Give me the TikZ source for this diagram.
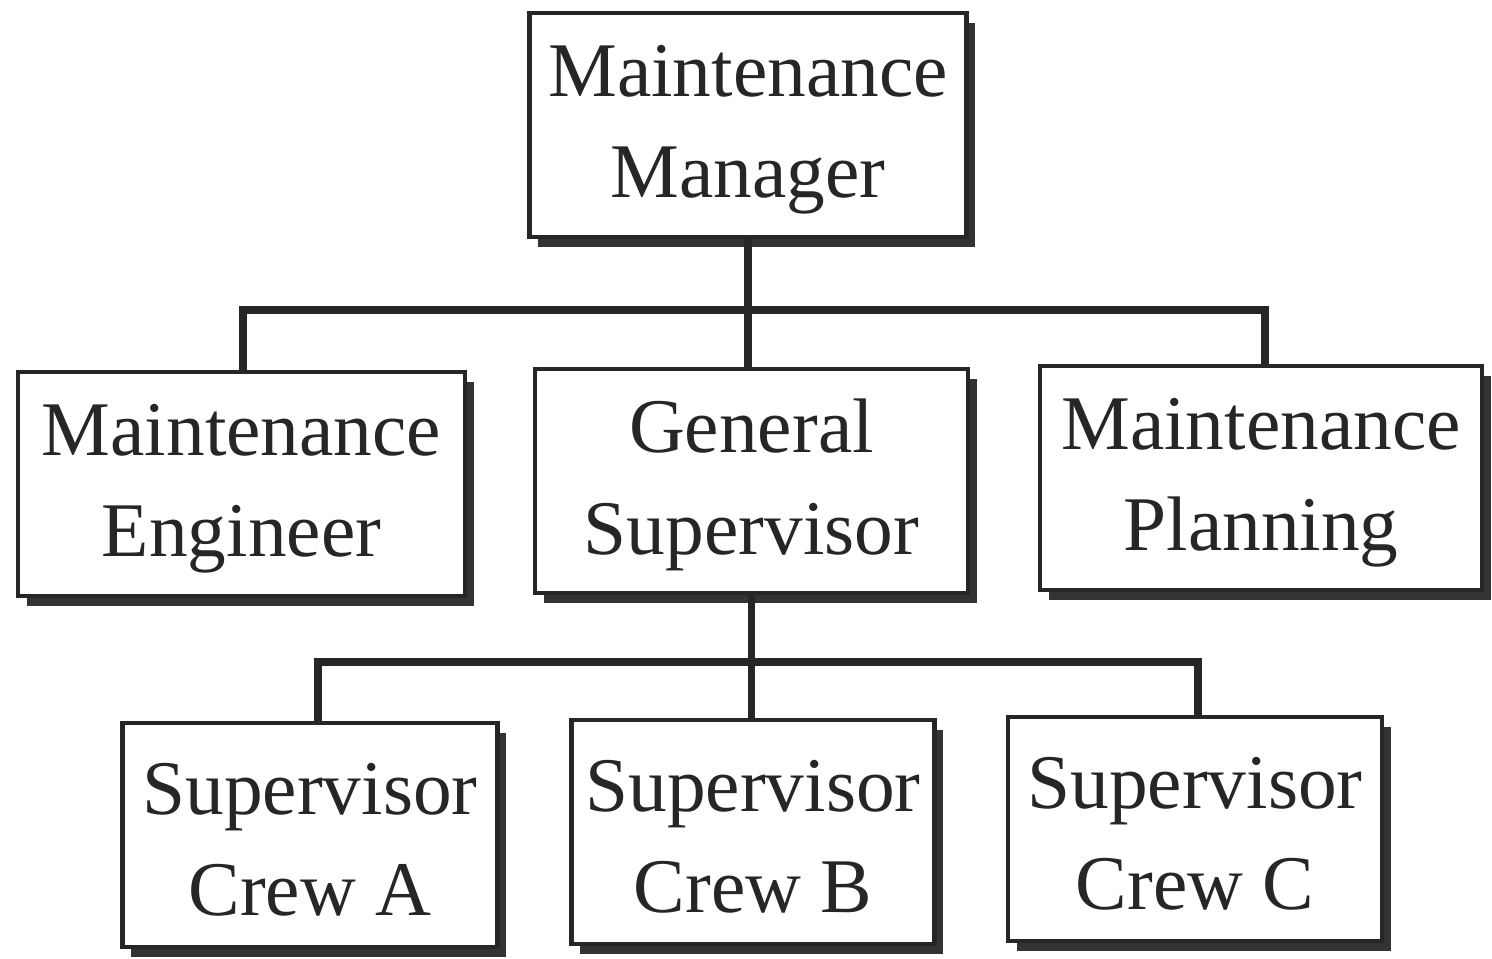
\documentclass[tikz,border=0pt]{standalone}
\usepackage{fontspec}
\setmainfont{Liberation Serif}
\usetikzlibrary{shadows}

\newcommand\lift{\rule{0pt}{35pt}}

\tikzset{
  post/.style={draw=black!85, line width=2.3pt, fill=white, align=center,
    text=black!85, inner sep=0pt, minimum height=4.48cm,
    font=\fontsize{44}{57.5}\selectfont,
    drop shadow={shadow xshift=5pt, shadow yshift=-5.5pt, opacity=1, fill=black!80}},
  link/.style={draw=black!85, line width=4pt}
}

\begin{document}
\begin{tikzpicture}
            \useasboundingbox (0,0) rectangle (29.84,-19.18);

            \node[post, minimum width=8.74cm] (mgr) at (14.96,-2.5) {\lift Maintenance\\Manager};

            \node[post, minimum width=8.94cm] (eng) at (4.83,-9.68) {\lift Maintenance\\Engineer};
            \node[post, minimum width=8.66cm] (gen) at (15.03,-9.62) {\lift General\\Supervisor};
            \node[post, minimum width=8.84cm] (plan) at (25.22,-9.56) {\lift Maintenance\\Planning};

            \node[post, minimum width=7.5cm] (crewA) at (6.2,-16.7) {\lift Supervisor\\Crew A};
            \node[post, minimum width=7.26cm] (crewB) at (15.06,-16.64) {\lift Supervisor\\Crew B};
            \node[post, minimum width=7.48cm] (crewC) at (23.9,-16.58) {\lift Supervisor\\Crew C};

            \coordinate (bus1) at (0,-6.2);
            \coordinate (bus2) at (0,-13.24);

            \draw[link] (mgr.south) -- (mgr.south |- bus1);
            \draw[link] (eng.north -| 4.86,0) -- (4.86,-6.2) -- (25.3,-6.2) -- (plan.north -| 25.3,0);
            \draw[link] (mgr.south |- bus1) -- (gen.north -| mgr.south);
            \draw[link] (gen.south) -- (gen.south |- bus2);
            \draw[link] (crewA.north -| 6.36,0) -- (6.36,-13.24) -- (23.96,-13.24) -- (crewC.north -| 23.96,0);
            \draw[link] (gen.south |- bus2) -- (crewB.north -| gen.south);
        \end{tikzpicture}
\end{document}
